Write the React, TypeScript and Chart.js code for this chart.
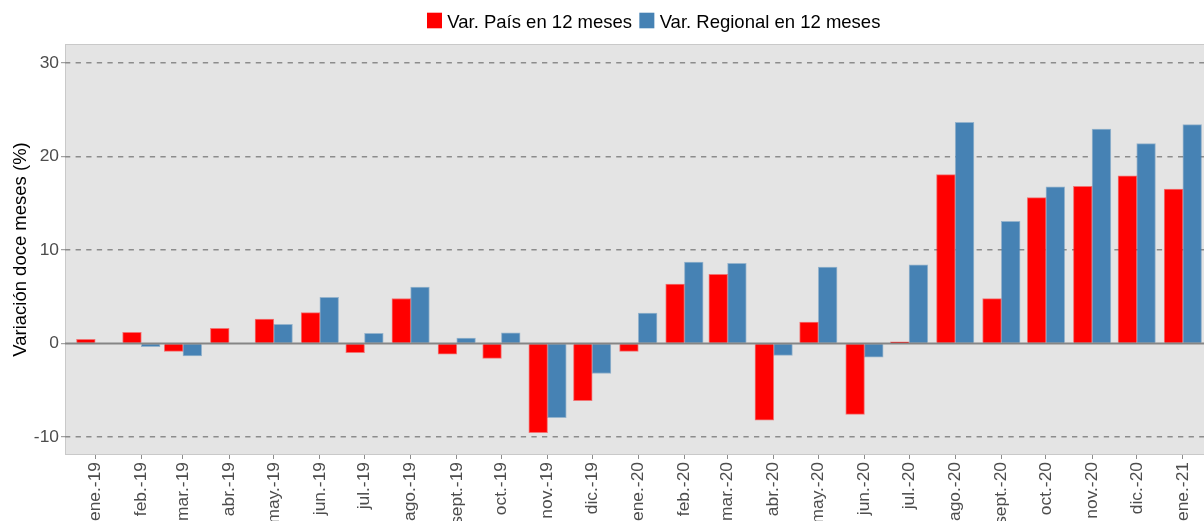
import { useEffect, useRef } from "react";
import { Chart, registerables } from "chart.js";

Chart.register(...registerables);

// ---- Data ----
const meses: string[] = [
  "ene.-19", "feb.-19", "mar.-19", "abr.-19", "may.-19", "jun.-19",
  "jul.-19", "ago.-19", "sept.-19", "oct.-19", "nov.-19", "dic.-19",
  "ene.-20", "feb.-20", "mar.-20", "abr.-20", "may.-20", "jun.-20",
  "jul.-20", "ago.-20", "sept.-20", "oct.-20", "nov.-20", "dic.-20",
  "ene.-21",
];
const fechas: string[] = [
  "2019-01-01", "2019-02-01", "2019-03-01", "2019-04-01", "2019-05-01", "2019-06-01",
  "2019-07-01", "2019-08-01", "2019-09-01", "2019-10-01", "2019-11-01", "2019-12-01",
  "2020-01-01", "2020-02-01", "2020-03-01", "2020-04-01", "2020-05-01", "2020-06-01",
  "2020-07-01", "2020-08-01", "2020-09-01", "2020-10-01", "2020-11-01", "2020-12-01",
  "2021-01-01",
];
const varPais: (number | null)[] = [
  0.45, 1.2, -0.84, 1.63, 2.62, 3.3, -0.98, 4.81, -1.14, -1.6, -9.55, -6.13,
  -0.85, 6.35, 7.4, -8.2, 2.29, -7.59, 0.18, 18.06, 4.8, 15.6, 16.81, 17.92,
  16.52,
];
const varRegional: (number | null)[] = [
  null, -0.35, -1.34, null, 2.05, 4.94, 1.09, 6.03, 0.58, 1.14, -7.95, -3.21,
  3.25, 8.7, 8.56, -1.28, 8.17, -1.46, 8.42, 23.66, 13.07, 16.74, 22.94, 21.37,
  23.4,
];
const yTicks: number[] = [-10, 0, 10, 20, 30];
const seriesNames: string[] = ["Var. País en 12 meses", "Var. Regional en 12 meses"];
const seriesColors: string[] = ["#FF0000", "#4682B4"];
const seriesEdge: string[] = ["rgba(255,0,0,0.5)", "rgba(70,130,180,0.5)"];
const yTitle = "Variación doce meses (%)";

// axis ranges (days from 2019-01-01 on x)
const X_MIN = -20.3;
const X_MAX = 745.2;
const Y_MIN = -11.93;
const Y_MAX = 32.03;

const FONT = "'Liberation Sans', Arial, Helvetica, sans-serif";
const DAY = 86400000;
const t0 = Date.parse("2019-01-01");
const xDias = fechas.map((f) => Math.round((Date.parse(f) - t0) / DAY));

const panelPlugin = {
  id: "ggPanel",
  beforeDraw(chart: any) {
    const { ctx, chartArea } = chart;
    const { left, top, right, bottom } = chartArea;
    ctx.save();
    ctx.fillStyle = "#e4e4e4";
    ctx.fillRect(left, top, right - left, bottom - top);
    ctx.strokeStyle = "#c9c9c9";
    ctx.lineWidth = 1;
    ctx.strokeRect(left + 0.5, top + 0.5, right - left + 2, bottom - top - 1);
    ctx.restore();
  },
  afterDatasetsDraw(chart: any) {
    const { ctx, chartArea, scales } = chart;
    const y0 = scales.y.getPixelForValue(0);
    ctx.save();
    ctx.strokeStyle = "#858585";
    ctx.lineWidth = 2;
    ctx.beginPath();
    ctx.moveTo(chartArea.left, y0);
    ctx.lineTo(chartArea.right, y0);
    ctx.stroke();
    ctx.restore();
  },
  afterDraw(chart: any) {
    const ctx = chart.ctx;
    ctx.save();
    ctx.font = `18.5px ${FONT}`;
    const key = 15;
    const gapKT = 5.3;
    const gapItems = 7.3;
    const widths = seriesNames.map((n) => ctx.measureText(n).width);
    const total = widths[0] + widths[1] + 2 * (key + gapKT) + gapItems;
    let x = 653.7 - total / 2;
    ctx.textBaseline = "alphabetic";
    ctx.textAlign = "left";
    seriesNames.forEach((name, i) => {
      ctx.fillStyle = seriesColors[i];
      ctx.fillRect(x, 12.7, key, 15.6);
      x += key + gapKT;
      ctx.fillStyle = "#000000";
      ctx.fillText(name, x, 28.3);
      x += widths[i] + gapItems;
    });
    ctx.restore();
  },
};

export default function App() {
  const canvasRef = useRef<HTMLCanvasElement | null>(null);

  useEffect(() => {
    if (!canvasRef.current) return;
    Chart.defaults.font.family = FONT;
    const datasets = [varPais, varRegional].map((vals, i) => ({
      label: seriesNames[i],
      data: vals.map((v, j) => ({ x: xDias[j], y: v })),
      backgroundColor: seriesColors[i],
      borderColor: seriesEdge[i],
      borderWidth: 1,
      borderSkipped: "start" as const,
      barThickness: 18.7,
    }));
    const chart = new Chart(canvasRef.current, {
      type: "bar",
      data: { datasets },
      options: {
        animation: false,
        responsive: false,
        devicePixelRatio: 1,
        layout: { padding: { top: 44, left: 0, right: 0, bottom: 0 } },
        plugins: {
          legend: { display: false },
          tooltip: { enabled: false },
        },
        scales: {
          x: {
            type: "linear",
            min: X_MIN,
            max: X_MAX,
            offset: false,
            afterBuildTicks: (axis: any) => {
              axis.ticks = xDias.map((v) => ({ value: v }));
            },
            afterFit: (axis: any) => {
              axis.height = 66;
              axis.paddingLeft = 0;
              axis.paddingRight = 0;
            },
            border: { display: false },
            grid: {
              offset: false,
              drawOnChartArea: false,
              drawTicks: true,
              tickLength: 4,
              tickColor: "#8c8c8c",
              tickWidth: 1,
            },
            ticks: {
              autoSkip: false,
              maxRotation: 90,
              minRotation: 90,
              padding: 3,
              color: "#4d4d4d",
              font: { size: 17.4, family: FONT },
              callback: (_v: any, i: number) => meses[i],
            },
          },
          y: {
            type: "linear",
            min: Y_MIN,
            max: Y_MAX,
            afterBuildTicks: (axis: any) => {
              axis.ticks = yTicks.map((v) => ({ value: v }));
            },
            afterFit: (axis: any) => {
              axis.width = 65;
            },
            border: { display: false, dash: [5.3, 5.3] },
            grid: {
              color: (c: any) =>
                c.tick && c.tick.value === 0 ? "rgba(0,0,0,0)" : "#8c8c8c",
              lineWidth: 1.4,
              drawTicks: true,
              tickLength: 4,
              tickColor: "#8c8c8c",
              tickWidth: 1,
            },
            ticks: {
              padding: 2,
              color: "#4d4d4d",
              font: { size: 17.4, family: FONT },
              callback: (v: any) => String(v),
            },
            title: {
              display: true,
              text: yTitle,
              color: "#000000",
              font: { size: 18.5, family: FONT },
              padding: { top: 10, bottom: 0 },
            },
          },
        },
      },
      plugins: [panelPlugin],
    });
    return () => chart.destroy();
  }, []);

  return (
    <div
      style={{
        position: "absolute",
        left: 0,
        top: 0,
        width: 1204,
        height: 521,
        overflow: "hidden",
        background: "#ffffff",
      }}
    >
      <canvas ref={canvasRef} width={1204} height={521} />
    </div>
  );
}
